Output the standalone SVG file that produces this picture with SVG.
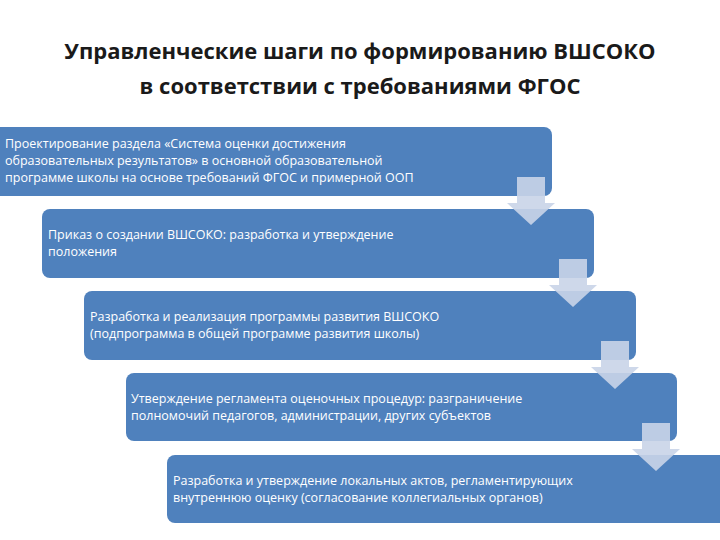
<svg xmlns="http://www.w3.org/2000/svg" width="720" height="540" viewBox="0 0 720 540">
<style>
.t{font-family:"Open Sans","DejaVu Sans",sans-serif;font-size:22px;font-weight:bold;fill:#1a1a1a;text-anchor:middle}
.b{fill:#4f81bd}
.l{font-family:"Open Sans","DejaVu Sans",sans-serif;font-size:12.5px;fill:#fff}
.a{fill:#c9d4e8;fill-opacity:0.9}
</style>
<rect width="720" height="540" fill="#fff"/>
<text class="t" x="360" y="59">Управленческие шаги по формированию ВШСОКО</text>
<text class="t" x="360" y="94">в соответствии с требованиями ФГОС</text>
<g id="n1"><rect class="b" x="-8" y="127" width="560" height="69" rx="8"/>
<text class="l" x="5" y="148">Проектирование раздела «Система оценки достижения</text>
<text class="l" x="5" y="165">образовательных результатов» в основной образовательной</text>
<text class="l" x="5" y="182">программе школы на основе требований ФГОС и примерной ООП</text></g>
<g id="n2"><rect class="b" x="42" y="209" width="552" height="69" rx="8"/>
<text class="l" x="48" y="239">Приказ о создании ВШСОКО: разработка и утверждение</text>
<text class="l" x="48" y="256">положения</text></g>
<g id="n3"><rect class="b" x="84" y="291" width="552" height="69" rx="8"/>
<text class="l" x="90" y="321">Разработка и реализация программы развития ВШСОКО</text>
<text class="l" x="90" y="338">(подпрограмма в общей программе развития школы)</text></g>
<g id="n4"><rect class="b" x="126" y="373" width="551" height="68" rx="8"/>
<text class="l" x="131" y="403">Утверждение регламента оценочных процедур: разграничение</text>
<text class="l" x="131" y="420">полномочий педагогов, администрации, других субъектов</text></g>
<g id="n5"><rect class="b" x="167" y="455" width="560" height="68" rx="8"/>
<text class="l" x="173" y="485">Разработка и утверждение локальных актов, регламентирующих</text>
<text class="l" x="173" y="502">внутреннюю оценку (согласование коллегиальных органов)</text></g>
<g id="connectors">
<path class="a" d="M517,177H545V203H555L531,225L507,203H517Z"/>
<path class="a" transform="translate(42,82)" d="M517,177H545V203H555L531,225L507,203H517Z"/>
<path class="a" transform="translate(84,164)" d="M517,177H545V203H555L531,225L507,203H517Z"/>
<path class="a" transform="translate(125,246)" d="M517,177H545V203H555L531,225L507,203H517Z"/>
</g>
</svg>
